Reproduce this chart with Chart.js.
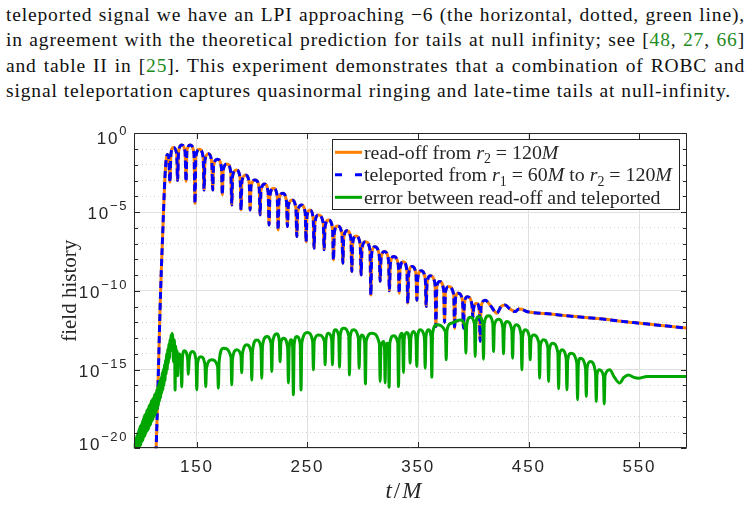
<!DOCTYPE html>
<html><head><meta charset="utf-8">
<script src="https://cdn.jsdelivr.net/npm/chart.js@4/dist/chart.umd.min.js"></script>
<style>
html,body{margin:0;padding:0;background:#fff;width:751px;height:507px;overflow:hidden}
#text{position:absolute;left:6px;top:2px;width:745px;font-family:"Liberation Serif",serif;font-size:19.5px;line-height:25.3px;color:#111}
#text .ln{white-space:nowrap;display:block}
#text .ln span.w{white-space:nowrap}
.c{color:#1e8c1e}
#wrap{position:absolute;left:0;top:100px;width:751px;height:407px}
</style></head><body>
<div id="text">
<div class="ln" data-w="739"><span class="w">teleported signal we have an LPI approaching −6 (the horizontal, dotted, green line),</span></div>
<div class="ln" data-w="739"><span class="w">in agreement with the theoretical prediction for tails at null infinity; see [<span class="c">48</span>, <span class="c">27</span>, <span class="c">66</span>]</span></div>
<div class="ln" data-w="739"><span class="w">and table II in [<span class="c">25</span>]. This experiment demonstrates that a combination of ROBC and</span></div>
<div class="ln" data-w="725"><span class="w">signal teleportation captures quasinormal ringing and late-time tails at null-infinity.</span></div>
</div>
<div id="wrap"><canvas id="c"></canvas></div>
<script>
// ---------- data (t/M, log10 of field value) ----------
const xTicks = [150, 250, 350, 450, 550];
const yLabelExps = [0, -5, -10, -15, -20];
const yDecadeExps = [0,-1,-2,-3,-4,-5,-6,-7,-8,-9,-10,-11,-12,-13,-14,-15,-16,-17,-18,-19,-20];

const readoff = [
[112.8,-21],[113.5,-19.5],[114.5,-17.2],[115.5,-14.6],[116.8,-11.2],[118.0,-8.6],[119.2,-6.4],[120.3,-4.3],[121.3,-2.7],[122.3,-1.7],[123.3,-1.35],
[124.6,-1.5],[125.8,-3.1],[126.6,-1.35],[128.8,-0.9],[131.8,-1.3],[132.7,-3.0],[133.5,-1.2],[136.4,-0.74],[139.4,-1.15],[140.3,-3.05],[141.1,-1.15],
[143.9,-0.75],[147.5,-1.3],[148.4,-4.45],[149.2,-1.45],[152.5,-1.02],[155.8,-1.55],[156.6,-3.6],[157.4,-1.7],[160.5,-1.3],[163.6,-1.9],[164.4,-3.6],
[165.2,-2.05],[168.7,-1.65],[172.3,-2.2],[173.1,-3.9],[173.9,-2.35],[177.3,-1.95],[180.8,-2.5],[181.6,-4.55],[182.4,-2.7],[185.8,-2.33],[189.2,-2.85],
[190.0,-4.87],[190.8,-3.05],[194.1,-2.65],[197.4,-3.15],[198.2,-4.87],[199.0,-3.35],[202.7,-2.96],[206.4,-3.45],[207.2,-5.18],[208.0,-3.65],[211.3,-3.22],
[214.5,-3.75],[215.3,-5.82],[216.1,-3.95],[219.4,-3.49],[222.7,-4.0],[223.5,-6.14],[224.3,-4.25],[227.7,-3.81],[231.1,-4.35],[231.9,-5.92],[232.7,-4.6],
[236.1,-4.23],[239.6,-4.75],[240.4,-6.56],[241.2,-4.95],[244.6,-4.55],[248.0,-5.05],[248.8,-6.88],[249.6,-5.25],[252.2,-4.87],[255.2,-5.4],[256.0,-7.3],
[256.8,-5.65],[259.9,-5.18],[264.3,-5.7],[265.1,-7.4],[265.9,-5.95],[269.0,-5.5],[272.7,-6.05],[273.5,-8.04],[274.3,-6.3],[277.1,-5.88],[281.2,-6.4],
[282.0,-8.25],[282.8,-6.65],[285.6,-6.18],[289.3,-6.7],[290.1,-8.78],[290.9,-6.95],[293.9,-6.52],[297.7,-7.05],[298.5,-8.99],[299.3,-7.3],[302.4,-6.88],
[306.5,-7.4],[307.3,-10.26],[308.1,-7.6],[310.9,-7.2],[314.9,-7.75],[315.7,-9.4],[316.5,-7.95],[319.5,-7.51],[323.3,-8.05],[324.1,-10.0],[324.9,-8.3],
[328.0,-7.83],[332.1,-8.35],[332.9,-10.15],[333.7,-8.6],[336.6,-8.15],[339.9,-8.7],[340.7,-10.79],[341.5,-8.9],[344.6,-8.46],[348.1,-8.95],[348.9,-10.6],
[349.7,-9.2],[352.8,-8.72],[356.5,-9.25],[357.3,-11.0],[358.1,-9.5],[361.1,-9.05],[365.3,-9.55],[366.1,-12.27],[366.9,-9.75],[369.5,-9.41],[373.1,-9.95],
[373.9,-12.0],[374.7,-10.1],[377.6,-9.73],[382.2,-10.25],[383.0,-12.4],[383.8,-10.45],[386.2,-10.15],[390.2,-10.65],[391.0,-12.37],[391.8,-10.85],
[394.5,-10.37],[398.7,-10.9],[399.5,-11.7],[400.3,-11.05],[403.0,-10.79],[405.3,-11.2],[406.1,-13.2],[406.9,-11.0],[410.6,-10.6],[415.5,-10.95],
[421.2,-11.42],[425.0,-11.0],[428.7,-10.9],[433.0,-11.15],[437.8,-11.32],[441.0,-11.15],[443.8,-11.17],[447.5,-11.3],[451.3,-11.36],[470.0,-11.48],
[484.5,-11.59],[514.6,-11.78],[544.7,-12.02],[570.0,-12.2],[593.0,-12.37]
];
// teleported signal: indistinguishable from the read-off at this scale
const teleported = readoff;

const errorCurve = [
[93.3,-20.3],[93.8,-19.7],[94.3,-20.4],[94.8,-19.4],[95.3,-20.2],[95.8,-19.2],[96.3,-20.3],[96.8,-19.0],[97.3,-20.1],[97.8,-18.8],[98.3,-19.9],
[98.8,-18.6],[99.3,-19.8],[99.8,-18.5],[100.3,-19.6],[100.8,-18.3],[101.3,-19.5],[101.8,-18.1],[102.3,-19.3],[102.8,-17.9],[103.3,-19.2],[103.8,-17.8],
[104.3,-19.0],[104.8,-17.6],[105.3,-18.9],[105.8,-17.5],[106.3,-18.8],[106.8,-17.3],[107.3,-18.6],[107.8,-17.2],[108.3,-18.5],[108.8,-17.0],[109.3,-18.3],
[109.8,-16.9],[110.3,-18.2],[110.8,-16.8],[111.3,-18.0],[111.8,-16.6],[112.3,-17.9],[112.8,-16.5],[113.3,-17.7],[113.8,-16.3],[114.3,-17.5],[114.8,-16.1],
[115.3,-17.3],[115.8,-15.9],[116.3,-17.0],[116.8,-15.7],[117.3,-16.8],[117.8,-15.5],[118.3,-16.5],[118.8,-15.2],[119.3,-16.3],[119.8,-15.0],[120.3,-16.0],
[120.8,-14.7],[121.3,-15.7],[121.8,-14.4],[122.3,-15.3],[122.8,-14.0],[123.3,-15.0],[123.8,-13.7],[124.3,-14.6],[124.8,-13.4],[125.3,-14.3],[125.8,-13.1],
[126.3,-13.8],[126.8,-12.8],[127.3,-13.4],[127.6,-12.7],[128.3,-13.0],[128.9,-14.5],[129.4,-13.1],[130.0,-13.6],[130.4,-16.3],[130.9,-13.5],[131.6,-14.8],
[132.2,-13.8],[132.8,-15.4],[133.5,-14.0],[135.6,-14.2],[136.4,-16.1],[137.1,-14.2],[138.7,-13.8],[141.7,-14.3],[142.4,-15.3],[143.1,-14.4],[146.0,-13.86],
[149.3,-14.4],[150.0,-16.29],[150.7,-14.6],[153.6,-14.18],[157.4,-14.7],[158.1,-16.08],[158.8,-14.9],[163.5,-14.38],[168.8,-14.8],[169.5,-16.18],[170.2,-14.5],
[174.0,-13.64],[180.9,-14.2],[181.6,-15.97],[182.3,-14.3],[186.1,-13.75],[189.9,-14.1],[190.6,-15.2],[191.3,-14.0],[195.2,-13.43],[199.0,-13.9],[199.7,-15.66],
[200.4,-13.8],[204.2,-13.12],[208.0,-13.6],[208.7,-15.55],[209.4,-13.5],[213.3,-12.9],[217.1,-13.35],[217.8,-15.13],[218.5,-13.3],[222.3,-12.73],[224.6,-13.2],
[225.3,-14.5],[226.0,-13.3],[228.3,-13.01],[232.1,-13.6],[232.8,-15.86],[233.5,-13.6],[235.3,-13.1],[236.6,-13.5],[237.3,-16.6],[238.0,-13.4],[240.4,-12.9],
[243.5,-13.4],[244.2,-16.3],[244.9,-13.3],[250.0,-12.65],[254.7,-13.2],[255.4,-15.02],[256.1,-13.2],[260.0,-12.8],[265.3,-13.2],[266.0,-14.7],[266.7,-13.15],
[269.0,-12.69],[271.9,-13.1],[272.6,-14.7],[273.3,-12.95],[275.0,-12.48],[278.3,-12.9],[279.0,-14.85],[279.7,-12.8],[282.5,-12.37],[287.3,-12.85],[288.0,-15.34],
[288.7,-12.9],[291.6,-12.48],[296.0,-13.0],[296.7,-14.91],[297.4,-13.2],[299.1,-12.8],[301.7,-13.25],[302.4,-15.91],[303.1,-13.2],[308.2,-12.69],[315.0,-13.35],
[315.7,-15.76],[316.4,-13.6],[318.7,-13.22],[319.6,-13.5],[320.2,-15.86],[320.8,-13.6],[322.3,-13.33],[323.2,-13.6],[323.8,-16.12],[324.5,-13.3],[327.8,-12.86],
[331.6,-13.3],[332.3,-16.08],[333.0,-13.1],[335.3,-12.69],[336.1,-13.1],[336.8,-15.19],[337.5,-13.0],[339.8,-12.65],[342.1,-13.1],[342.8,-14.6],[343.5,-13.0],
[345.8,-12.59],[348.1,-13.0],[348.8,-14.81],[349.5,-12.95],[351.9,-12.48],[355.7,-12.95],[356.4,-14.91],[357.1,-12.9],[359.4,-12.48],[361.7,-12.9],[362.4,-15.48],
[363.1,-12.7],[366.9,-12.16],[374.7,-12.6],[375.4,-14.38],[376.1,-12.5],[380.0,-12.06],[384.0,-11.95],[388.0,-11.85],[392.5,-12.3],[393.2,-13.96],[393.9,-12.2],
[397.1,-11.68],[400.9,-12.1],[401.6,-14.17],[402.3,-12.05],[404.6,-11.63],[408.4,-12.1],[409.1,-14.34],[409.8,-12.05],[413.6,-11.59],[417.5,-12.05],[418.2,-13.86],
[418.9,-12.2],[422.7,-11.8],[426.5,-12.3],[427.2,-14.0],[427.9,-12.4],[430.2,-11.95],[434.7,-12.5],[435.4,-14.28],[436.1,-12.6],[438.7,-12.16],[443.1,-12.8],
[443.8,-15.02],[444.5,-12.9],[446.8,-12.48],[450.6,-12.95],[451.3,-14.38],[452.0,-13.1],[454.3,-12.8],[459.1,-13.3],[459.8,-15.55],[460.5,-13.5],[463.4,-13.11],
[467.2,-13.6],[467.9,-15.76],[468.6,-13.8],[471.5,-13.33],[476.3,-13.95],[477.0,-16.22],[477.7,-14.1],[480.0,-13.75],[483.8,-14.3],[484.5,-16.29],[485.2,-14.4],
[488.1,-13.96],[493.4,-14.6],[494.1,-16.92],[494.8,-14.7],[496.5,-14.28],[501.3,-14.9],[502.0,-16.71],[502.7,-14.9],[505.6,-14.49],[510.3,-15.2],[511.0,-17.03],
[511.7,-15.3],[513.7,-15.02],[517.5,-15.4],[518.2,-17.18],[518.9,-15.4],[523.1,-15.02],[527.5,-15.5],[532.1,-15.86],[536.0,-15.5],[540.2,-15.34],[545.0,-15.5],
[549.3,-15.55],[556.8,-15.44],[575.0,-15.44],[593.0,-15.44]
];

// ---------- paragraph justification (Computer Modern is wider than the installed serif) ----------
(function () {
  const lines = [...document.querySelectorAll('#text .ln')];
  const last = lines[lines.length - 1].querySelector('.w');
  const spaces = s => (s.textContent.match(/ /g) || []).length;
  // letter spacing chosen so the ragged last line has natural word spacing at its reference width
  const natLast = last.getBoundingClientRect().width;
  const nChars = last.textContent.length;
  const wordGap = 5.2;
  const ls = (725 - natLast - spaces(last) * (wordGap - 4.875)) / nChars;
  document.getElementById('text').style.letterSpacing = ls + 'px';
  lines.forEach(ln => {
    const sp = ln.querySelector('.w');
    const target = +ln.dataset.w;
    const nat = sp.getBoundingClientRect().width;
    sp.style.wordSpacing = ((target - nat) / spaces(sp)) + 'px';
  });
})();

// ---------- chart ----------
const toPts = arr => arr.map(p => ({x: p[0], y: Math.pow(10, p[1])}));
const INK = '#262626';
const sansFont = '"Liberation Sans", Arial, sans-serif';
const serifFont = '"Liberation Serif", "Times New Roman", serif';

const decorations = {
  id: 'decorations',
  beforeDraw(chart) { chart.ctx.letterSpacing = '1.8px'; },
  afterDatasetsDraw(chart) {
    const {ctx, chartArea: a, scales: {x, y}} = chart;
    ctx.save();
    ctx.letterSpacing = '0px';
    ctx.strokeStyle = INK; ctx.lineWidth = 1;
    const L = Math.round(a.left) + 0.5, R = Math.round(a.right) - 0.5, T = Math.round(a.top) + 0.5, B = Math.round(a.bottom) - 0.5;
    ctx.beginPath();
    ctx.rect(L, T, R - L, B - T);
    yDecadeExps.forEach(e => {
      const py = Math.round(y.getPixelForValue(Math.pow(10, e))) + 0.5;
      const len = (e % 5 === 0) ? 5.5 : 3.5;
      ctx.moveTo(L, py); ctx.lineTo(L + len, py);
      ctx.moveTo(R, py); ctx.lineTo(R - len, py);
    });
    xTicks.forEach(v => {
      const px = Math.round(x.getPixelForValue(v)) + 0.5;
      ctx.moveTo(px, B); ctx.lineTo(px, B - 5.5);
      ctx.moveTo(px, T); ctx.lineTo(px, T + 5.5);
    });
    ctx.stroke();
    ctx.restore();
  },
  afterDraw(chart) {
    const {ctx, chartArea: a, scales: {x, y}} = chart;
    ctx.save();
    // y tick labels 10^n
    ctx.fillStyle = INK;
    ctx.textBaseline = 'alphabetic';
    yLabelExps.forEach(e => {
      const ty = y.getPixelForValue(Math.pow(10, e));
      const cy = Math.min(Math.max(ty + 1, a.top + 4.5), a.bottom - 4);
      const sup = e === 0 ? '0' : '\u2212' + (-e);
      ctx.letterSpacing = '1.6px';
      ctx.font = '13px ' + sansFont;
      const ws = ctx.measureText(sup).width;
      const right = 128;
      ctx.textAlign = 'left';
      ctx.fillText(sup, right - ws, cy - 3);
      ctx.font = '17px ' + sansFont;
      ctx.letterSpacing = '1.8px';
      const wb = ctx.measureText('10').width;
      ctx.fillText('10', right - ws - wb, cy + 6.1);
    });
    ctx.letterSpacing = '0px';
    // axis titles
    ctx.fillStyle = INK;
    ctx.font = '21px ' + serifFont;
    ctx.save();
    ctx.translate(70, (a.top + a.bottom) / 2);
    ctx.rotate(-Math.PI / 2);
    ctx.textAlign = 'center'; ctx.textBaseline = 'middle';
    ctx.fillText('field history', 0, 0);
    ctx.restore();
    drawRich(ctx, [{t:'t',i:1},{t:'/'},{t:'M',i:1}], 23, 0, 0, true, (a.left + a.right) / 2 - 7, 390, 2);
    // legend
    const bw = 347, bh = 70;
    const bx = a.right - 8 - bw, by = a.top + 6;
    ctx.fillStyle = '#fff';
    ctx.fillRect(bx, by, bw, bh);
    ctx.strokeStyle = INK; ctx.lineWidth = 1;
    ctx.strokeRect(Math.round(bx) + 0.5, Math.round(by) + 0.5, bw, bh);
    const rows = [
      {color:'#ff8000', dash:false, segs:[{t:'read-off from '},{t:'r',i:1},{t:'2',s:1},{t:' = 120'},{t:'M',i:1}]},
      {color:'#0000ff', dash:true, segs:[{t:'teleported from '},{t:'r',i:1},{t:'1',s:1},{t:' = 60'},{t:'M',i:1},{t:' to '},{t:'r',i:1},{t:'2',s:1},{t:' = 120'},{t:'M',i:1}]},
      {color:'#00a600', dash:false, segs:[{t:'error between read-off and teleported'}]}
    ];
    const fs = 17 * 308 / richWidth(ctx, rows[1].segs, 17);
    rows.forEach((r, k) => {
      const cy = by + 13 + k * 22.5;
      ctx.strokeStyle = r.color; ctx.lineWidth = 3; ctx.lineCap = 'butt';
      ctx.beginPath();
      if (r.dash) { ctx.moveTo(bx + 3, cy); ctx.lineTo(bx + 10, cy); ctx.moveTo(bx + 23, cy); ctx.lineTo(bx + 30, cy); }
      else { ctx.moveTo(bx + 3, cy); ctx.lineTo(bx + 30, cy); }
      ctx.stroke();
      ctx.fillStyle = INK;
      drawRich(ctx, r.segs, fs, bx + 32, cy + fs * 0.33, false);
    });
    ctx.restore();
  }
};

function segFont(s, fs) {
  const size = s.s ? fs * 0.7 : fs;
  return (s.i ? 'italic ' : '') + size + 'px ' + serifFont;
}
function richWidth(ctx, segs, fs, gap) {
  let w = 0;
  segs.forEach(s => { ctx.font = segFont(s, fs); w += ctx.measureText(s.t).width + (gap || 0); });
  return w - (gap || 0);
}
function drawRich(ctx, segs, fs, x0, base, centered, cx, cyMid, gap) {
  ctx.save();
  ctx.textAlign = 'left'; ctx.textBaseline = 'alphabetic'; ctx.letterSpacing = '0px';
  let x = x0, b = base;
  if (centered) { x = cx - richWidth(ctx, segs, fs, gap) / 2; b = cyMid + fs * 0.33; }
  segs.forEach(s => {
    ctx.font = segFont(s, fs);
    ctx.fillText(s.t, x, s.s ? b + fs * 0.22 : b);
    x += ctx.measureText(s.t).width + (gap || 0);
  });
  ctx.restore();
}

new Chart(document.getElementById('c'), {
  type: 'line',
  data: {
    datasets: [
      {label: 'error between read-off and teleported', data: toPts(errorCurve), borderColor: '#00a600', borderWidth: 3, order: 0},
      {label: 'teleported from r1 = 60M to r2 = 120M', data: toPts(teleported), borderColor: '#0000ff', borderWidth: 3, borderDash: [7, 4], borderCapStyle: 'butt', order: 1},
      {label: 'read-off from r2 = 120M', data: toPts(readoff), borderColor: '#ff8000', borderWidth: 3, order: 2}
    ]
  },
  options: {
    responsive: true, maintainAspectRatio: false, animation: false,
    devicePixelRatio: 1,
    parsing: false, normalized: true,
    datasets: {line: {pointRadius: 0, cubicInterpolationMode: 'monotone', borderJoinStyle: 'round', clip: 0, fill: false}},
    layout: {padding: {left: 0, right: 64, top: 33.3, bottom: 0}},
    plugins: {legend: {display: false}, tooltip: {enabled: false}},
    scales: {
      x: {
        type: 'linear', min: 93, max: 593,
        afterBuildTicks: s => { s.ticks = xTicks.map(v => ({value: v})); },
        afterFit: s => { s.height = 58.7; },
        grid: {color: '#e0e0e0', lineWidth: 1, drawTicks: false},
        border: {display: false},
        ticks: {color: INK, font: {family: sansFont, size: 17}, padding: 9, maxRotation: 0, autoSkip: false}
      },
      y: {
        type: 'logarithmic', min: 1e-20, max: 1,
        afterBuildTicks: s => { s.ticks = yDecadeExps.map(e => ({value: Math.pow(10, e)})); },
        afterFit: s => { s.width = 133.7; },
        grid: {
          drawTicks: false, lineWidth: 1,
          color: c => (c.tick && Math.round(Math.log10(c.tick.value)) % 5 === 0) ? '#e0e0e0' : '#d0d0d0'
        },
        border: {display: false, dash: c => (c.tick && Math.round(Math.log10(c.tick.value)) % 5 === 0) ? [] : [1, 3]},
        ticks: {display: false}
      }
    }
  },
  plugins: [decorations]
});
</script>
</body></html>
